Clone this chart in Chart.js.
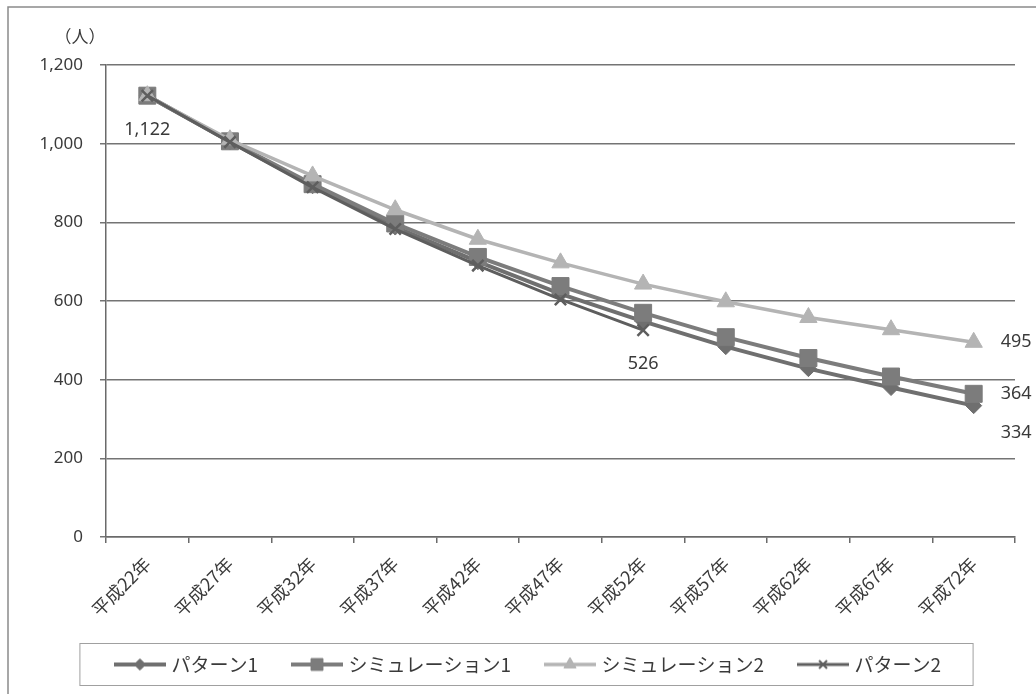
<!DOCTYPE html>
<html>
<head>
<meta charset="utf-8">
<script src="https://cdn.jsdelivr.net/npm/chart.js@4.4.0/dist/chart.umd.min.js"></script>
<style>
  html, body { margin: 0; padding: 0; background: #fff; }
  #wrap { width: 1036px; height: 694px; }
</style>
</head>
<body>
<div id="wrap"><canvas id="chart" width="1036" height="694"></canvas></div>
<script>
// categories and series
const years = ["平成22年", "平成27年", "平成32年", "平成37年", "平成42年", "平成47年",
  "平成52年", "平成57年", "平成62年", "平成67年", "平成72年"];
const pattern1 = [1122, 1005, 893, 788, 700, 618, 548, 484, 428, 380, 334];
const simulation1 = [1122, 1006, 897, 797, 712, 638, 570, 508, 455, 408, 364];
const simulation2 = [1122, 1010, 918, 832, 757, 697, 643, 598, 558, 527, 495];
const pattern2 = [1122, 1004, 889, 783, 690, 604, 526, null, null, null, null];
const seriesNames = ["パターン1", "シミュレーション1", "シミュレーション2", "パターン2"];
const yTicks = [0, 200, 400, 600, 800, 1000, 1200];

const numFont = "'Noto Sans', 'Noto Sans CJK JP', sans-serif";
const jpFont = "'Noto Sans CJK JP', 'Noto Sans', sans-serif";
const textColor = "#3a3a3a";

// line styles per series
const styles = [
  { color: "#6f6f6f", point: "rectRot", radius: 8, width: 4 },
  { color: "#7c7c7c", point: "rect", radius: 12, width: 4 },
  { color: "#b4b4b4", point: "triangle", radius: 10, width: 3.5 },
  { color: "#5e5e5e", point: "crossRot", radius: 8, width: 3 },
];

// small canvas: line with marker in middle, for the legend
function legendIcon(s) {
  const c = document.createElement("canvas");
  c.width = 52; c.height = 20;
  const ctx = c.getContext("2d");
  ctx.strokeStyle = s.color;
  ctx.lineWidth = s.width;
  ctx.beginPath(); ctx.moveTo(0, 10); ctx.lineTo(52, 10); ctx.stroke();
  ctx.fillStyle = s.color;
  ctx.lineWidth = s.point === "crossRot" ? 2 : 1;
  Chart.helpers.drawPoint(ctx, { pointStyle: s.point, radius: s.radius * 0.7, rotation: 0, borderWidth: 1 }, 26, 10);
  if (s.point !== "crossRot") ctx.fill();
  return c;
}

// which points carry a value label, and where
const valueLabels = [
  { ds: 1, i: 0, where: "below" },
  { ds: 3, i: 6, where: "below" },
  { ds: 2, i: 10, where: "right" },
  { ds: 1, i: 10, where: "right" },
  { ds: 0, i: 10, where: "belowRight" },
];

const decor = {
  id: "decor",
  afterLayout(chart) {
    // the legend row sits a bit right of the canvas centre
    chart.legend.left += 22;
    chart.legend.right += 22;
  },
  beforeDraw(chart) {
    const ctx = chart.ctx;
    ctx.save();
    ctx.strokeStyle = "#8a8a8a";
    ctx.lineWidth = 1.5;
    ctx.strokeRect(8, 7, 1040, 700);
    ctx.restore();
  },
  afterDraw(chart) {
    const ctx = chart.ctx;
    ctx.save();
    // unit
    ctx.fillStyle = textColor;
    ctx.font = "17px " + jpFont;
    ctx.textAlign = "center";
    ctx.textBaseline = "middle";
    ctx.fillText("（人）", 80, 37);
    // value labels
    ctx.font = "18px " + numFont;
    valueLabels.forEach(l => {
      const p = chart.getDatasetMeta(l.ds).data[l.i];
      const v = chart.data.datasets[l.ds].data[l.i];
      const txt = v.toLocaleString("en-US");
      if (l.where === "below") { ctx.textAlign = "center"; ctx.fillText(txt, p.x, p.y + 34); }
      else if (l.where === "right") { ctx.textAlign = "left"; ctx.fillText(txt, p.x + 27, p.y); }
      else { ctx.textAlign = "left"; ctx.fillText(txt, p.x + 27, p.y + 27); }
    });
    // legend frame
    const hb = chart.legend.legendHitBoxes;
    if (hb && hb.length) {
      const first = hb[0], last = hb[hb.length - 1];
      const cy = first.top + first.height / 2;
      ctx.strokeStyle = "#a0a0a0";
      ctx.lineWidth = 1;
      ctx.strokeRect(first.left - 38, cy - 21, last.left + last.width - first.left + 70, 42);
    }
    ctx.restore();
  }
};

const allSeries = [pattern1, simulation1, simulation2, pattern2];

new Chart(document.getElementById("chart"), {
  type: "line",
  plugins: [decor],
  data: {
    labels: years,
    datasets: allSeries.map((d, k) => ({
      label: seriesNames[k],
      data: d,
      borderColor: styles[k].color,
      backgroundColor: styles[k].color,
      borderWidth: styles[k].width,
      pointStyle: styles[k].point,
      pointRadius: styles[k].radius,
      pointBorderWidth: styles[k].point === "crossRot" ? 2.5 : 1,
      pointBorderColor: styles[k].color,
      pointBackgroundColor: styles[k].color,
      tension: 0,
      spanGaps: false,
      order: 3 - k,
    })),
  },
  options: {
    responsive: false,
    animation: false,
    layout: { padding: { left: 0, right: 21, top: 65, bottom: 10 } },
    plugins: {
      tooltip: { enabled: false },
      legend: {
        position: "bottom",
        labels: {
          font: { family: jpFont, size: 19 },
          color: textColor,
          padding: 37,
          usePointStyle: true,
          pointStyleWidth: 44,
          generateLabels: chart => chart.data.datasets.map((ds, k) => ({
            text: ds.label,
            pointStyle: legendIcon(styles[k]),
            fillStyle: "transparent",
            strokeStyle: "transparent",
            lineWidth: 0,
            fontColor: textColor,
            datasetIndex: k,
            hidden: false,
          })),
        },
      },
    },
    scales: {
      x: {
        offset: true,
        grid: { drawOnChartArea: false, drawTicks: true, tickLength: 6, color: "#6a6a6a", lineWidth: 1.5, offset: true },
        border: { color: "#6a6a6a", width: 1.5 },
        ticks: {
          font: { family: jpFont, size: 18 },
          color: textColor,
          minRotation: 45,
          maxRotation: 45,
          padding: 10,
          autoSkip: false,
        },
        afterFit: s => { s.height = 81; },
      },
      y: {
        min: 0,
        max: 1200,
        afterBuildTicks: s => { s.ticks = yTicks.map(v => ({ value: v })); },
        grid: { color: "#747474", lineWidth: 1.5, drawTicks: true, tickLength: 6 },
        border: { color: "#6a6a6a", width: 1.5 },
        ticks: {
          font: { family: numFont, size: 17 },
          color: textColor,
          padding: 17,
          callback: v => v.toLocaleString("en-US"),
        },
        afterFit: s => { s.width = 106; },
      },
    },
  },
});
</script>
</body>
</html>
